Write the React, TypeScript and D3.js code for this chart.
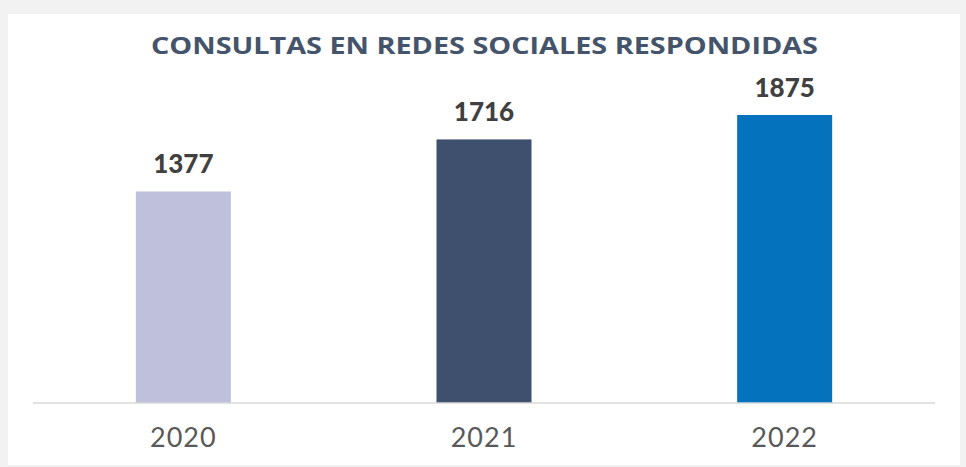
import React from "react";
import * as d3 from "d3";

const categories = ["2020", "2021", "2022"];
const values = [1377, 1716, 1875];
const barColors = ["#bfc0dc", "#3f506e", "#0572be"];
const title = "CONSULTAS EN REDES SOCIALES RESPONDIDAS";

const W = 966;
const H = 467;
const FONT = "Lato, 'Noto Sans', sans-serif";

export default function App() {
  const plotLeft = 33;
  const plotRight = 935;
  const baseY = 403;
  const yMax = 2250;
  const plotTop = baseY - 2250 * (288 / 1875);

  const x = d3
    .scaleBand<string>()
    .domain(categories)
    .range([plotLeft, plotRight])
    .paddingInner(0.684)
    .paddingOuter(0.342);
  const y = d3.scaleLinear().domain([0, yMax]).range([baseY, plotTop]);

  return (
    <div style={{ position: "absolute", left: 0, top: 0, width: W, height: H }}>
      <svg width={W} height={H} style={{ display: "block" }}>
        <rect x={0} y={0} width={W} height={H} fill="#f2f2f2" />
        <rect x={8} y={14} width={952} height={451} fill="#ffffff" />
        <text
          x={151}
          y={53.5}
          fontFamily="'Open Sans', sans-serif"
          fontWeight={700}
          fontSize={23.5}
          fill="#44546a"
          textLength={667}
          lengthAdjust="spacingAndGlyphs"
        >
          {title}
        </text>
        {categories.map((c, i) => (
          <g key={c}>
            <rect
              x={x(c)!}
              y={y(values[i])}
              width={x.bandwidth()}
              height={baseY - y(values[i])}
              fill={barColors[i]}
            />
            <text
              x={x(c)! + x.bandwidth() / 2}
              y={y(values[i]) - 18}
              textAnchor="middle"
              fontFamily={FONT}
              fontWeight={900}
              fontSize={26}
              fill="#404040"
            >
              {values[i]}
            </text>
            <text
              x={x(c)! + x.bandwidth() / 2}
              y={447}
              textAnchor="middle"
              fontFamily={FONT}
              fontSize={27}
              fill="#595959"
              letterSpacing={1}
            >
              {c}
            </text>
          </g>
        ))}
        <line x1={plotLeft} x2={plotRight} y1={baseY} y2={baseY} stroke="#d9d9d9" strokeWidth={1.5} />
      </svg>
    </div>
  );
}
